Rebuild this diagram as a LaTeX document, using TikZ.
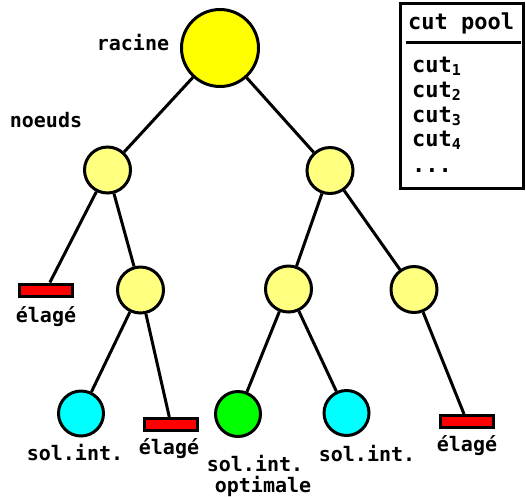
\documentclass[tikz,border=0pt]{standalone}
\usepackage{fontspec}
\setmonofont{DejaVu Sans Mono}
\definecolor{rootyellow}{HTML}{FFFF00}
\definecolor{nodeyellow}{HTML}{FFFF80}
\definecolor{solcyan}{HTML}{00FFFF}
\definecolor{optgreen}{HTML}{00FF00}
\definecolor{prunered}{HTML}{FF0000}
\tikzset{
  edge/.style={line width=3pt},
  rootnode/.style={circle, draw, line width=3pt, fill=rootyellow, minimum size=77pt, inner sep=0pt},
  treenode/.style={circle, draw, line width=3pt, fill=nodeyellow, minimum size=46pt, inner sep=0pt},
  solnode/.style={circle, draw, line width=3pt, fill=solcyan, minimum size=45pt, inner sep=0pt},
  optnode/.style={circle, draw, line width=3pt, fill=optgreen, minimum size=45pt, inner sep=0pt},
  prunebox/.style={rectangle, draw, line width=3pt, fill=prunered, minimum width=53pt, minimum height=12pt, inner sep=0pt},
  lbl/.style={font=\ttfamily\bfseries\fontsize{20}{21}\selectfont, inner sep=0pt},
  pooltxt/.style={font=\ttfamily\bfseries\fontsize{22}{23}\selectfont, inner sep=0pt, anchor=base west},
}
\newcommand{\sbs}[1]{\raisebox{-0.3ex}{\fontsize{15}{15}\selectfont #1}}
\begin{document}
\begin{tikzpicture}[x=1pt,y=-1pt]
\useasboundingbox (0,0) rectangle (526,496);
% nodes
\node[rootnode] (root) at (220,48) {};
\node[treenode] (l1) at (107.5,170) {};
\node[treenode] (r1) at (330,170.5) {};
\node[prunebox] (p1) at (46,290) {};
\node[treenode] (l2) at (140.5,290) {};
\node[treenode] (m2) at (288.5,289) {};
\node[treenode] (r2) at (414,289.5) {};
\node[solnode] (s1) at (81,413.5) {};
\node[prunebox] (p2) at (171,424.5) {};
\node[optnode] (opt) at (238,414) {};
\node[solnode] (s2) at (346.5,413) {};
\node[prunebox] (p3) at (467,421.5) {};
% edges
\draw[edge] (root) -- (l1);
\draw[edge] (root) -- (r1);
\draw[edge] (l1) -- (p1);
\draw[edge] (l1) -- (l2);
\draw[edge] (r1) -- (m2);
\draw[edge] (r1) -- (r2);
\draw[edge] (l2) -- (s1);
\draw[edge] (l2) -- (p2);
\draw[edge] (m2) -- (opt);
\draw[edge] (m2) -- (s2);
\draw[edge] (r2) -- (p3);
% labels
\node[lbl] (lracine) at (133,43) {racine};
\node[lbl] (lnoeuds) at (46,120) {noeuds};
\node[lbl] (lp1) at (46,317) {élagé};
\node[lbl] (ls1) at (75,452) {sol.int.};
\node[lbl] (lp2) at (169,449) {élagé};
\node[lbl, align=left] (lopt) at (259,476) {sol.int.\\\hspace*{8pt}optimale};
\node[lbl] (ls2) at (367,453) {sol.int.};
\node[lbl] (lp3) at (467,446) {élagé};
% cut pool
\node[draw, line width=3pt, minimum width=123pt, minimum height=185pt, inner sep=0pt] (pool) at (461.5,95.5) {};
\node[pooltxt] (ptitle) at (408,29) {cut pool};
\draw[line width=3pt] (406,42.5) -- (521,42.5);
\node[pooltxt] (c1) at (412,72) {cut\sbs{1}};
\node[pooltxt] (c2) at (412,97) {cut\sbs{2}};
\node[pooltxt] (c3) at (412,122) {cut\sbs{3}};
\node[pooltxt] (c4) at (412,146) {cut\sbs{4}};
\node[pooltxt] (c5) at (412,172) {...};
\end{tikzpicture}
\end{document}
